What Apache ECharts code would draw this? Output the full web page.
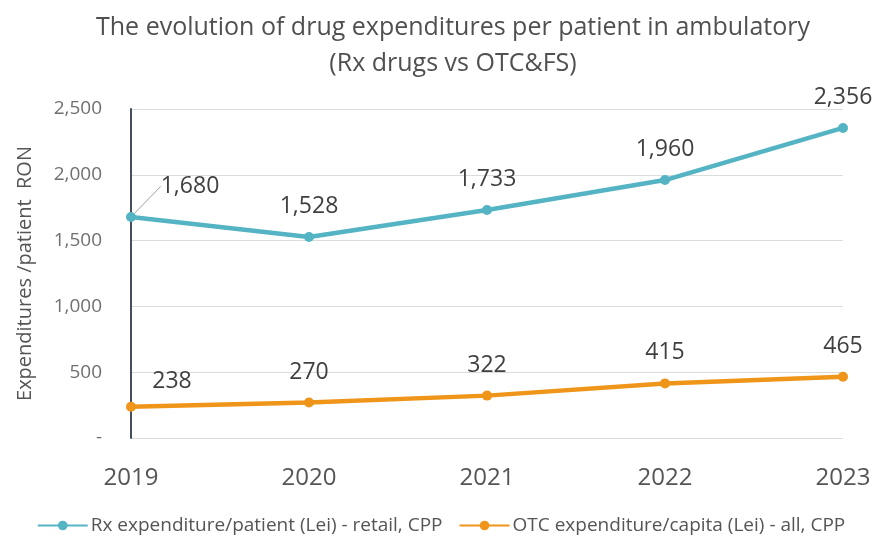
<!DOCTYPE html>
<html>
<head>
<meta charset="utf-8">
<script src="https://cdn.jsdelivr.net/npm/echarts@6/dist/echarts.min.js"></script>
<style>
  html, body { margin: 0; padding: 0; background: #fff; }
  #chart { width: 882px; height: 536px; }
</style>
</head>
<body>
<div id="chart"></div>
<script>
// Years on the category axis
const years = ['2019', '2020', '2021', '2022', '2023'];
// Rx drug expenditure per patient (Lei)
const rxValues = [1680, 1528, 1733, 1960, 2356];
// OTC & FS expenditure per capita (Lei)
const otcValues = [238, 270, 322, 415, 465];
// Value axis ticks
const yTicks = [0, 500, 1000, 1500, 2000, 2500];

const FONT = '"Open Sans", "Noto Sans", sans-serif';
const fmt = v => v.toLocaleString('en-US');

const chart = echarts.init(document.getElementById('chart'), null, { renderer: 'canvas' });

const labelStyle = {
  show: true, position: 'top', distance: 14,
  fontFamily: FONT, fontSize: 23, color: '#404040',
  formatter: p => fmt(p.value)
};

// The first point's label is pushed to the right; only that one gets a leader line
function withLeader(values) {
  return values.map((v, i) => ({
    value: v,
    labelLine: { show: i === 0, lineStyle: { color: '#a0a0a0', width: 1 } }
  }));
}

chart.setOption({
  animation: false,
  backgroundColor: '#ffffff',
  title: {
    text: 'The evolution of drug expenditures per patient in ambulatory',
    subtext: '(Rx drugs vs OTC&FS)',
    left: 448,
    textAlign: 'center',
    top: 8,
    itemGap: 6,
    textStyle: {
      fontFamily: FONT, fontSize: 25, fontWeight: 'normal',
      color: '#505050', lineHeight: 30
    },
    subtextStyle: {
      fontFamily: FONT, fontSize: 25, fontWeight: 'normal',
      color: '#505050', lineHeight: 30
    }
  },
  legend: {
    top: 511,
    left: 'center',
    itemGap: 16,
    itemWidth: 50,
    itemHeight: 12,
    textStyle: { fontFamily: FONT, fontSize: 19, color: '#555', padding: [0, 0, 0, -2] },
    data: [
      'Rx expenditure/patient (Lei) - retail, CPP',
      'OTC expenditure/capita (Lei) - all, CPP'
    ]
  },
  grid: { left: 131, right: 39, top: 109, bottom: 98 },
  xAxis: {
    type: 'category',
    data: years,
    boundaryGap: false,
    axisLine: { show: false },
    axisTick: { show: false },
    axisLabel: {
      margin: 28, fontFamily: FONT, fontSize: 24, color: '#555'
    }
  },
  yAxis: {
    type: 'value',
    min: yTicks[0],
    max: yTicks[yTicks.length - 1],
    interval: 500,
    name: 'Expenditures /patient  RON',
    nameLocation: 'middle',
    nameGap: 96,
    nameTextStyle: { fontFamily: FONT, fontSize: 20, color: '#555' },
    axisLine: { show: true, lineStyle: { color: '#44505c', width: 2 } },
    axisTick: { show: false },
    axisLabel: {
      margin: 29,
      fontFamily: FONT, fontSize: 19, color: '#707070',
      formatter: v => (v === 0 ? '-' : fmt(v))
    },
    splitLine: { lineStyle: { color: '#dcdcdc', width: 1 } }
  },
  series: [
    {
      name: 'Rx expenditure/patient (Lei) - retail, CPP',
      type: 'line',
      data: withLeader(rxValues),
      symbol: 'circle',
      symbolSize: 10,
      color: '#54b4c4',
      lineStyle: { width: 4.5, color: '#54b4c4' },
      itemStyle: { color: '#54b4c4' },
      label: labelStyle,
      labelLayout: p => (p.dataIndex === 0 ? { dx: 59, dy: 0 } : {}),
      z: 3
    },
    {
      name: 'OTC expenditure/capita (Lei) - all, CPP',
      type: 'line',
      data: otcValues,
      symbol: 'circle',
      symbolSize: 10,
      color: '#ef951a',
      lineStyle: { width: 4.5, color: '#ef951a' },
      itemStyle: { color: '#ef951a' },
      label: labelStyle,
      labelLayout: p => (p.dataIndex === 0 ? { dx: 41, dy: 5 } : {}),
      z: 3
    }
  ]
});
</script>
</body>
</html>
